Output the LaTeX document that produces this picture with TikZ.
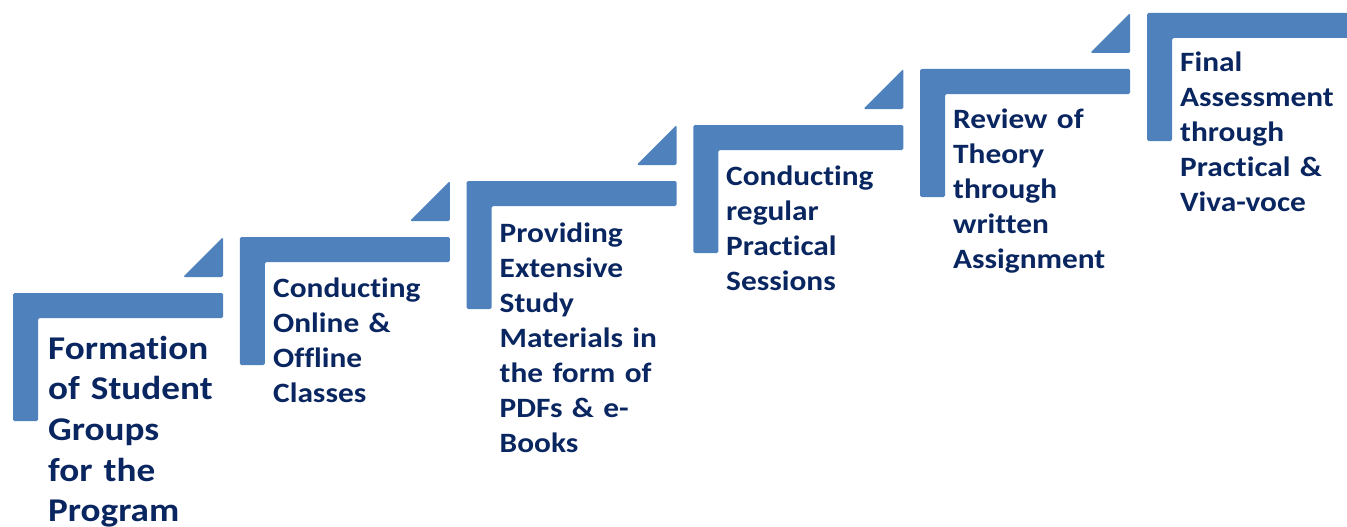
\documentclass[tikz,border=0pt]{standalone}
\usepackage{fontspec}
\setmainfont{Carlito}[Ligatures=CommonOff, FakeStretch=1.12]
\definecolor{stepblue}{HTML}{4F81BD}
\definecolor{navy}{HTML}{0A2660}
\tikzset{
  stepshape/.style={fill=stepblue, draw=none, rounded corners=1.5pt},
  steptext/.style={anchor=base west, inner sep=0pt, text width=260pt, align=left, text=navy,
    font={\fontsize{28}{35}\selectfont\bfseries}},
  bigtext/.style={steptext, font={\fontsize{33.2}{40.7}\selectfont\bfseries}}
}
\begin{document}
\begin{tikzpicture}[x=1pt,y=-1pt]
\useasboundingbox (0,0) rectangle (1347,527);
\clip (0,0) rectangle (1347,527);
\foreach \k in {0,...,5}{
  \pgfmathsetmacro{\L}{13+226.8*\k}
  \pgfmathsetmacro{\T}{293-56*\k}
  \fill[stepshape] (\L,\T) -- (\L+210,\T) -- (\L+210,\T+25) -- (\L+25,\T+25)
     -- (\L+25,\T+128) -- (\L,\T+128) -- cycle;
  \ifnum\k<5
  \fill[stepshape] (\L+210,\T-56) -- (\L+210,\T-16) -- (\L+170,\T-16) -- cycle;
  \fi
}
\node[bigtext] (t1) at (48,359) {Formation\\of Student\\Groups\\for the\\Program};
\node[steptext] (t2) at (273,297) {Conducting\\Online \&\\Offline\\Classes};
\node[steptext] (t3) at (499.5,242.5) {Providing\\Extensive\\Study\\Materials in\\the form of\\PDFs \& e-\\Books};
\node[steptext] (t4) at (726,185.5) {Conducting\\regular\\Practical\\Sessions};
\node[steptext] (t5) at (953,128.5) {Review of\\Theory\\through\\written\\Assignment};
\node[steptext] (t6) at (1180,72) {Final\\Assessment\\through\\Practical \&\\Viva-voce};
\end{tikzpicture}
\end{document}
